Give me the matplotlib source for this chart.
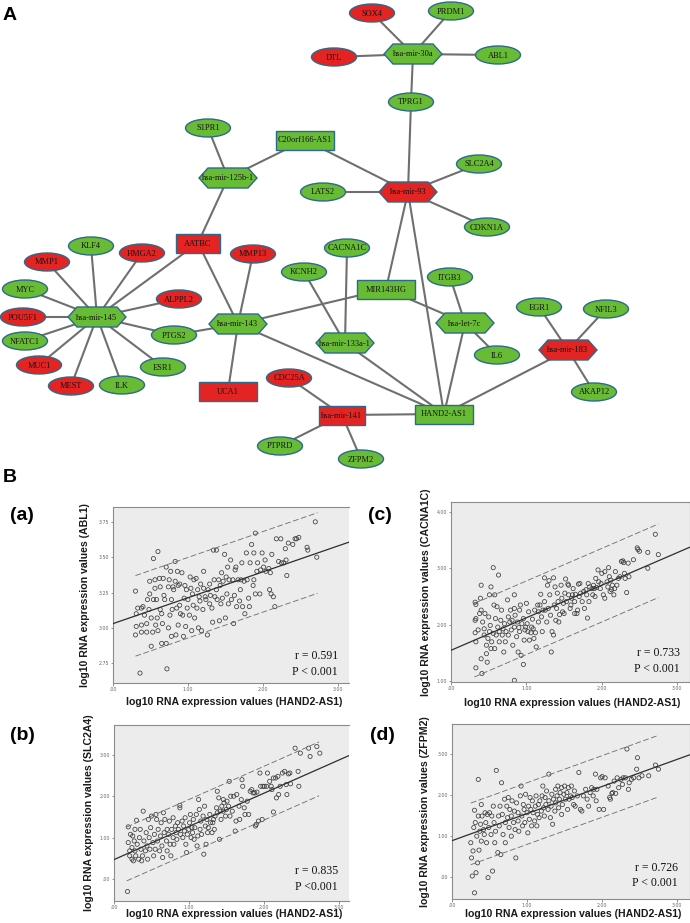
import matplotlib
matplotlib.use("Agg")
import matplotlib.pyplot as plt
from matplotlib.patches import Ellipse, Rectangle, Polygon

# ------------------------------------------------------------------ data
NODE_NAMES = ["hsa-mir-30a", "SOX4", "PRDM1", "DTL", "ABL1", "TPRG1", "S1PR1",
              "C20orf166-AS1", "hsa-mir-125b-1", "LATS2", "hsa-mir-93", "SLC2A4",
              "CDKN1A", "AATBC", "KLF4", "HMGA2", "MMP1", "MMP13", "CACNA1C", "KCNH2",
              "MYC", "ALPPL2", "POU5F1", "hsa-mir-145", "hsa-mir-143", "PTGS2",
              "NFATC1", "hsa-mir-133a-1", "MUC1", "ESR1", "MEST", "ILK", "CDC25A",
              "UCA1", "hsa-mir-141", "PTPRD", "ZFPM2", "ITGB3", "MIR143HG", "EGR1",
              "NFIL3", "hsa-let-7c", "hsa-mir-183", "IL6", "AKAP12", "HAND2-AS1"]
NODE_REGULATION = ["down", "up", "down", "up", "down", "down", "down",
                   "down", "down", "down", "up", "down",
                   "down", "up", "down", "up", "up", "up", "down", "down",
                   "down", "up", "up", "down", "down", "down",
                   "down", "down", "up", "down", "up", "down", "up",
                   "up", "up", "down", "down", "down", "down", "down",
                   "down", "down", "up", "down", "down", "down"]
NODE_SHAPE = ["hex", "ell", "ell", "ell", "ell", "ell", "ell",
              "rect", "hex", "ell", "hex", "ell",
              "ell", "rect", "ell", "ell", "ell", "ell", "ell", "ell",
              "ell", "ell", "ell", "hex", "hex", "ell",
              "ell", "hex", "ell", "ell", "ell", "ell", "ell",
              "rect", "rect", "ell", "ell", "ell", "rect", "ell",
              "ell", "hex", "hex", "ell", "ell", "rect"]
EDGES = [("hsa-mir-30a", "SOX4"), ("hsa-mir-30a", "PRDM1"), ("hsa-mir-30a", "DTL"),
         ("hsa-mir-30a", "ABL1"), ("hsa-mir-30a", "TPRG1"), ("TPRG1", "hsa-mir-93"),
         ("hsa-mir-93", "C20orf166-AS1"), ("hsa-mir-93", "LATS2"), ("hsa-mir-93", "SLC2A4"),
         ("hsa-mir-93", "CDKN1A"), ("hsa-mir-93", "MIR143HG"), ("hsa-mir-93", "HAND2-AS1"),
         ("C20orf166-AS1", "hsa-mir-125b-1"), ("S1PR1", "hsa-mir-125b-1"),
         ("hsa-mir-125b-1", "AATBC"), ("AATBC", "hsa-mir-145"), ("AATBC", "hsa-mir-143"),
         ("hsa-mir-145", "KLF4"), ("hsa-mir-145", "HMGA2"), ("hsa-mir-145", "MMP1"),
         ("hsa-mir-145", "MYC"), ("hsa-mir-145", "ALPPL2"), ("hsa-mir-145", "POU5F1"),
         ("hsa-mir-145", "NFATC1"), ("hsa-mir-145", "PTGS2"), ("hsa-mir-145", "MUC1"),
         ("hsa-mir-145", "ESR1"), ("hsa-mir-145", "MEST"), ("hsa-mir-145", "ILK"),
         ("PTGS2", "hsa-mir-143"), ("hsa-mir-143", "MMP13"), ("hsa-mir-143", "UCA1"),
         ("hsa-mir-143", "MIR143HG"), ("hsa-mir-143", "HAND2-AS1"),
         ("hsa-mir-133a-1", "CACNA1C"), ("hsa-mir-133a-1", "KCNH2"),
         ("hsa-mir-133a-1", "HAND2-AS1"), ("MIR143HG", "hsa-let-7c"),
         ("hsa-let-7c", "ITGB3"), ("hsa-let-7c", "IL6"), ("hsa-let-7c", "HAND2-AS1"),
         ("hsa-mir-183", "EGR1"), ("hsa-mir-183", "NFIL3"), ("hsa-mir-183", "AKAP12"),
         ("hsa-mir-183", "HAND2-AS1"), ("hsa-mir-141", "CDC25A"), ("hsa-mir-141", "PTPRD"),
         ("hsa-mir-141", "ZFPM2"), ("hsa-mir-141", "HAND2-AS1")]

# scatter panels (log10 expression)
A_X = [0.30,0.31,0.31,0.30,0.36,0.38,0.38,0.33,0.38,0.40,
       0.42,0.45,0.45,0.46,0.48,0.49,0.49,0.51,0.51,0.53,
       0.54,0.54,0.56,0.56,0.57,0.58,0.59,0.60,0.60,0.62,
       0.63,0.63,0.65,0.65,0.66,0.67,0.68,0.69,0.71,0.71,
       0.72,0.74,0.74,0.75,0.76,0.77,0.78,0.78,0.79,0.80,
       0.81,0.83,0.83,0.84,0.85,0.86,0.87,0.87,0.89,0.89,
       0.90,0.92,0.93,0.94,0.95,0.96,0.97,0.98,0.99,1.00,
       1.02,1.03,1.04,1.05,1.06,1.07,1.08,1.09,1.11,1.12,
       1.13,1.14,1.15,1.16,1.17,1.18,1.20,1.21,1.21,1.23,
       1.24,1.26,1.27,1.29,1.29,1.30,1.32,1.33,1.34,1.35,
       1.36,1.38,1.38,1.39,1.41,1.42,1.43,1.44,1.45,1.46,
       1.47,1.49,1.50,1.51,1.52,1.53,1.54,1.55,1.57,1.58,
       1.60,1.61,1.62,1.63,1.64,1.65,1.67,1.69,1.70,1.71,
       1.72,1.73,1.75,1.76,1.78,1.79,1.81,1.82,1.83,1.85,
       1.87,1.88,1.88,1.90,1.90,1.92,1.93,1.96,1.97,1.99,
       2.01,2.03,2.04,2.08,2.09,2.10,2.11,2.12,2.14,2.16,
       2.18,2.21,2.24,2.25,2.28,2.30,2.31,2.32,2.34,2.40,
       2.43,2.45,2.48,2.59,2.60,2.70,2.72]
A_Y = [3.26,3.10,3.01,2.95,2.68,2.97,3.02,3.14,3.14,3.15,
       3.09,3.03,2.97,3.20,3.13,3.24,3.33,3.07,2.87,2.97,
       3.20,3.49,3.34,3.28,3.02,3.20,3.07,2.98,3.54,3.35,
       3.13,3.29,2.89,3.10,3.03,3.35,3.23,3.20,3.43,2.89,
       2.71,3.29,3.00,3.34,3.09,3.40,3.20,2.94,3.13,3.29,
       3.27,3.47,3.33,2.95,3.14,3.40,3.30,3.02,3.31,3.16,
       3.10,3.39,3.09,2.94,3.21,3.30,3.01,3.27,3.14,3.20,
       3.09,3.36,3.28,2.98,3.24,3.16,3.34,3.07,3.35,3.14,
       3.27,3.00,3.22,3.19,3.31,2.98,3.13,3.28,3.40,3.22,
       3.20,2.95,3.27,3.17,3.31,3.23,3.14,3.04,3.55,3.34,
       3.22,3.55,3.27,3.20,3.34,3.05,3.30,3.17,3.39,3.21,
       3.33,3.52,3.07,3.36,3.24,3.43,3.17,3.34,3.48,3.20,
       3.34,3.03,3.23,3.41,3.43,3.15,3.34,3.19,3.27,3.34,
       3.46,3.15,3.33,3.10,3.53,3.34,3.21,3.15,3.46,3.59,
       3.30,3.34,3.53,3.24,3.67,3.40,3.46,3.24,3.41,3.53,
       3.43,3.48,3.40,3.42,3.27,3.39,3.24,3.52,3.22,3.15,
       3.63,3.47,3.63,3.46,3.46,3.56,3.48,3.37,3.60,3.59,
       3.63,3.63,3.64,3.57,3.55,3.75,3.50]

C_X = [0.32,0.33,0.32,0.33,0.32,0.33,0.33,0.36,0.38,0.39,
       0.40,0.40,0.40,0.41,0.42,0.44,0.44,0.45,0.47,0.47,
       0.48,0.49,0.50,0.51,0.51,0.52,0.53,0.53,0.54,0.56,
       0.56,0.57,0.58,0.58,0.59,0.60,0.61,0.62,0.63,0.64,
       0.64,0.66,0.67,0.68,0.69,0.70,0.71,0.72,0.73,0.75,
       0.76,0.76,0.78,0.79,0.80,0.81,0.82,0.84,0.84,0.84,
       0.85,0.87,0.88,0.89,0.90,0.91,0.91,0.92,0.93,0.94,
       0.96,0.96,0.97,0.98,0.99,1.00,1.01,1.02,1.03,1.04,
       1.06,1.07,1.08,1.09,1.10,1.11,1.12,1.13,1.15,1.16,
       1.16,1.18,1.19,1.20,1.21,1.22,1.24,1.24,1.25,1.27,
       1.28,1.29,1.30,1.31,1.32,1.33,1.34,1.36,1.36,1.37,
       1.38,1.39,1.40,1.41,1.42,1.43,1.44,1.46,1.47,1.48,
       1.49,1.50,1.51,1.52,1.53,1.55,1.56,1.56,1.58,1.59,
       1.60,1.61,1.62,1.64,1.64,1.65,1.67,1.68,1.69,1.70,
       1.71,1.72,1.74,1.76,1.77,1.79,1.80,1.81,1.82,1.83,
       1.84,1.87,1.88,1.89,1.90,1.91,1.92,1.93,1.95,1.96,
       1.98,1.99,2.00,2.02,2.04,2.04,2.07,2.08,2.09,2.10,
       2.11,2.12,2.13,2.14,2.16,2.17,2.18,2.20,2.22,2.24,
       2.26,2.28,2.29,2.30,2.31,2.33,2.35,2.36,2.42,2.47,
       2.48,2.50,2.61,2.61,2.71,2.75,0.84]
C_Y = [2.40,2.36,2.08,2.11,1.86,1.70,1.24,1.91,2.20,2.47,
       2.70,2.26,1.40,1.14,2.05,1.82,1.93,2.20,1.64,1.49,
       1.34,1.76,2.14,2.53,1.88,1.99,1.58,2.67,1.70,3.01,
       1.85,2.35,2.53,1.58,2.11,1.82,2.32,1.96,2.88,1.70,
       1.88,2.08,2.26,1.82,1.93,1.52,2.02,1.70,1.88,2.44,
       2.14,1.82,2.05,2.26,1.91,2.08,1.64,1.96,2.53,2.29,
       2.17,1.79,2.05,1.52,1.95,1.88,2.26,2.35,1.46,2.02,
       2.11,1.30,1.73,1.91,1.96,2.38,2.02,1.88,2.23,1.73,
       1.86,1.96,2.10,1.93,1.76,2.26,1.86,1.61,2.35,2.23,
       2.05,2.35,2.54,2.14,1.88,2.26,2.83,2.41,2.26,2.05,
       2.70,2.29,2.78,2.53,2.17,1.52,1.88,1.82,2.83,2.35,
       2.67,2.08,2.29,2.56,2.41,2.05,2.18,2.70,2.47,2.23,
       2.38,2.20,2.56,2.81,2.41,2.72,2.70,2.53,2.29,2.35,
       2.47,2.53,2.64,2.20,2.41,2.54,2.20,2.26,2.72,2.50,
       2.73,2.56,2.41,2.59,2.29,2.62,2.53,2.12,2.73,2.41,
       2.67,2.64,2.53,2.70,2.64,2.50,2.82,2.66,2.97,2.76,
       2.64,2.73,2.91,2.53,2.47,2.94,2.76,2.67,3.01,2.85,
       2.59,2.79,2.62,2.70,2.53,2.64,2.94,2.70,2.82,2.85,
       3.12,3.13,3.10,2.91,2.82,2.57,3.09,2.85,3.15,3.36,
       3.33,3.30,3.00,3.28,3.60,3.24,1.02]

B_X = [0.18,0.19,0.19,0.21,0.21,0.22,0.24,0.24,0.25,0.26,
       0.27,0.28,0.28,0.29,0.30,0.31,0.33,0.34,0.35,0.36,
       0.37,0.38,0.39,0.40,0.42,0.43,0.44,0.45,0.46,0.47,
       0.48,0.49,0.50,0.52,0.53,0.54,0.55,0.56,0.57,0.58,
       0.59,0.61,0.62,0.63,0.64,0.65,0.66,0.67,0.68,0.70,
       0.71,0.71,0.73,0.74,0.75,0.76,0.77,0.79,0.79,0.80,
       0.82,0.83,0.84,0.85,0.86,0.88,0.88,0.89,0.91,0.92,
       0.93,0.94,0.95,0.96,0.97,0.98,1.00,1.01,1.02,1.03,
       1.04,1.05,1.06,1.07,1.08,1.10,1.11,1.12,1.13,1.14,
       1.15,1.16,1.17,1.19,1.20,1.21,1.22,1.23,1.24,1.25,
       1.26,1.28,1.29,1.31,1.32,1.33,1.34,1.35,1.37,1.38,
       1.38,1.40,1.41,1.42,1.43,1.44,1.46,1.46,1.47,1.49,
       1.50,1.51,1.53,1.54,1.55,1.56,1.58,1.60,1.62,1.63,
       1.64,1.67,1.68,1.70,1.71,1.72,1.74,1.75,1.78,1.80,
       1.82,1.84,1.86,1.88,1.89,1.90,1.91,1.93,1.95,1.96,
       1.98,1.99,2.01,2.04,2.05,2.08,2.10,2.11,2.13,2.13,
       2.16,2.17,2.19,2.20,2.22,2.25,2.28,2.30,2.31,2.33,
       2.35,2.36,2.42,2.46,2.47,2.49,2.60,2.62,2.71,2.75]
B_Y = [-0.30,0.88,1.26,0.68,0.56,1.08,0.48,0.76,1.04,0.44,
       0.92,0.68,1.20,0.56,1.42,0.84,0.48,1.00,1.20,0.72,
       0.44,0.56,1.64,0.92,0.68,1.12,0.80,0.48,1.44,1.00,
       0.72,1.24,1.52,0.88,0.56,1.08,0.72,1.56,1.44,0.92,
       1.20,0.68,1.04,1.36,0.80,0.52,1.60,1.12,1.44,0.92,
       1.20,0.68,1.08,1.40,0.84,0.56,1.20,1.48,1.00,0.84,
       1.28,1.12,0.96,1.36,1.20,1.72,1.78,1.08,1.40,1.00,
       1.28,1.16,1.48,0.84,0.64,1.08,1.20,1.36,1.56,1.00,
       1.24,1.12,1.44,0.96,1.24,1.56,0.80,1.04,1.92,1.68,
       1.20,1.40,1.08,1.52,0.60,1.76,1.28,0.84,1.44,1.12,
       1.24,1.56,1.36,1.12,1.36,1.44,1.20,1.52,1.72,2.12,
       1.60,1.96,0.96,1.64,1.44,1.76,1.92,1.64,1.84,1.52,
       1.68,1.88,1.76,2.36,1.52,2.00,1.64,2.00,1.16,1.40,
       2.04,1.76,1.44,1.92,2.40,2.24,1.72,1.56,1.88,1.56,
       2.12,2.16,2.08,2.08,1.28,1.32,2.10,1.40,2.56,2.24,
       1.44,2.24,2.24,2.24,2.56,2.36,2.24,2.16,1.62,2.44,
       2.44,1.96,2.48,2.04,2.24,2.56,2.60,2.28,2.04,2.54,
       2.56,2.30,3.16,2.60,2.24,3.04,3.16,2.96,3.20,3.04]

D_X = [0.25,0.26,0.27,0.28,0.29,0.30,0.30,0.31,0.32,0.33,
       0.34,0.35,0.35,0.36,0.37,0.38,0.39,0.39,0.40,0.42,
       0.43,0.44,0.45,0.46,0.47,0.48,0.49,0.50,0.52,0.53,
       0.54,0.55,0.56,0.57,0.58,0.59,0.61,0.62,0.63,0.64,
       0.65,0.66,0.67,0.68,0.70,0.71,0.71,0.73,0.74,0.75,
       0.76,0.77,0.79,0.79,0.80,0.82,0.83,0.84,0.85,0.86,
       0.88,0.88,0.89,0.91,0.92,0.93,0.94,0.95,0.96,0.97,
       0.98,1.00,1.01,1.02,1.03,1.04,1.05,1.06,1.07,1.08,
       1.10,1.11,1.12,1.13,1.14,1.15,1.16,1.17,1.19,1.20,
       1.21,1.22,1.23,1.24,1.25,1.26,1.28,1.29,1.29,1.31,
       1.32,1.33,1.34,1.35,1.37,1.38,1.38,1.40,1.41,1.42,
       1.43,1.44,1.46,1.46,1.47,1.49,1.50,1.51,1.53,1.54,
       1.55,1.56,1.58,1.59,1.60,1.62,1.63,1.64,1.67,1.69,
       1.71,1.73,1.75,1.78,1.80,1.82,1.84,1.86,1.88,1.89,
       1.91,1.92,1.93,1.96,1.98,2.00,2.02,2.04,2.08,2.10,
       2.11,2.13,2.14,2.16,2.18,2.20,2.22,2.25,2.27,2.28,
       2.31,2.33,2.35,2.36,2.39,2.42,2.46,2.47,2.49,2.53,
       2.62,2.71,2.75]
D_Y = [0.83,0.46,0.02,0.63,1.20,-0.39,1.62,1.32,0.10,0.99,
       0.34,2.37,1.48,0.65,1.11,1.28,1.76,0.87,1.48,1.15,
       1.03,1.56,1.32,0.83,1.52,-0.02,1.20,1.56,1.03,1.48,
       0.14,1.72,1.32,0.83,1.11,2.59,0.59,1.48,1.24,1.72,
       0.54,2.29,1.52,1.03,1.89,1.32,0.83,1.72,1.44,1.93,
       1.20,1.64,1.48,0.99,1.85,1.32,1.60,1.15,0.46,1.80,
       1.36,1.56,1.11,1.97,2.21,1.48,1.24,1.76,1.64,1.32,
       2.01,1.56,1.07,1.72,1.40,1.93,1.64,1.24,1.85,1.56,
       1.36,1.72,1.97,1.24,1.52,1.76,1.44,1.85,1.60,1.97,
       2.21,1.68,1.48,1.93,1.76,2.09,1.64,2.50,1.85,1.44,
       1.72,2.01,1.28,1.89,1.60,2.13,1.80,1.97,2.21,1.68,
       1.89,2.05,1.52,2.17,1.76,2.01,2.21,1.89,2.05,1.64,
       2.17,1.89,1.97,2.21,1.93,1.76,2.09,1.72,1.97,2.54,
       1.64,1.60,1.97,2.13,1.89,1.72,2.05,2.17,1.97,2.13,
       2.50,1.85,2.13,1.64,2.41,2.44,1.64,2.41,2.21,1.93,
       1.89,2.03,2.05,2.33,2.03,2.41,2.17,2.37,2.25,2.41,
       2.41,3.11,2.13,2.29,2.37,2.41,2.62,2.90,2.41,2.46,
       2.46,2.72,2.62]

PANEL_TAGS = ["(a)", "(b)", "(c)", "(d)"]
PANEL_GENES = ["ABL1", "SLC2A4", "CACNA1C", "ZFPM2"]
PANEL_R = ["r = 0.591", "r = 0.835", "r = 0.733", "r = 0.726"]
PANEL_P = ["P < 0.001", "P <0.001", "P < 0.001", "P < 0.001"]
FIT_INTERCEPT = [3.03, 0.47, 1.55, 0.88]
FIT_SLOPE = [0.183, 0.80, 0.575, 0.66]
PRED_HALF = [0.285, 0.65, 0.65, 0.75]
PRED_XRANGE = [(0.30, 2.73), (0.17, 2.74), (0.31, 2.75), (0.25, 2.75)]
X_TICKS = [0, 1, 2, 3]
X_TICKLABELS = [".00", "1.00", "2.00", "3.00"]
Y_TICKS = [[2.75, 3.00, 3.25, 3.50, 3.75], [0, 1, 2, 3], [1, 2, 3, 4], [0, 1, 2, 3]]
Y_TICKLABELS = [["2.75", "3.00", "3.25", "3.50", "3.75"], [".00", "1.00", "2.00", "3.00"],
                ["1.00", "2.00", "3.00", "4.00"], [".00", "1.00", "2.00", "3.00"]]
X_LABEL = "log10 RNA expression values (HAND2-AS1)"

# ------------------------------------------------------------------ layout (pixels)
W, H = 690, 923
LAYOUT = {
    "hsa-mir-30a": (413, 54), "SOX4": (372, 13), "PRDM1": (451, 11), "DTL": (334, 57),
    "ABL1": (498, 55), "TPRG1": (411, 102), "S1PR1": (208, 128),
    "C20orf166-AS1": (305, 140), "hsa-mir-125b-1": (228, 178), "LATS2": (323, 192),
    "hsa-mir-93": (408, 192), "SLC2A4": (479, 164), "CDKN1A": (487, 227),
    "AATBC": (198, 243), "KLF4": (91, 246), "HMGA2": (142, 253), "MMP1": (47, 262),
    "MMP13": (253, 254), "CACNA1C": (347, 248), "KCNH2": (304, 272), "MYC": (25, 289),
    "ALPPL2": (179, 299), "POU5F1": (23, 317), "hsa-mir-145": (97, 317),
    "hsa-mir-143": (238, 324), "PTGS2": (174, 335), "NFATC1": (25, 341),
    "hsa-mir-133a-1": (345, 343), "MUC1": (39, 365), "ESR1": (163, 367),
    "MEST": (71, 386), "ILK": (122, 385), "CDC25A": (289, 378), "UCA1": (228, 391),
    "hsa-mir-141": (342, 415), "PTPRD": (280, 446), "ZFPM2": (361, 459),
    "ITGB3": (450, 277), "MIR143HG": (386, 289), "EGR1": (539, 307),
    "NFIL3": (606, 309), "hsa-let-7c": (465, 323), "hsa-mir-183": (568, 350),
    "IL6": (497, 355), "AKAP12": (594, 392), "HAND2-AS1": (444, 414),
}
RECT_W = {"AATBC": 44, "hsa-mir-141": 46}

GREEN = "#68bb35"
RED = "#e42323"
BORDER = "#2c6a8a"
EDGE_C = "#6f6f6f"

fig = plt.figure(figsize=(W / 100, H / 100), dpi=100)
ov = fig.add_axes([0, 0, 1, 1])
ov.set_xlim(0, W)
ov.set_ylim(H, 0)
ov.axis("off")

# edges
for a, b in EDGES:
    (x1, y1), (x2, y2) = LAYOUT[a], LAYOUT[b]
    ov.plot([x1, x2], [y1, y2], color=EDGE_C, lw=1.5, zorder=1, solid_capstyle="butt")

# nodes
for name, reg, shp in zip(NODE_NAMES, NODE_REGULATION, NODE_SHAPE):
    x, y = LAYOUT[name]
    fc = RED if reg == "up" else GREEN
    if shp == "ell":
        p = Ellipse((x, y), 45, 18, facecolor=fc, edgecolor=BORDER, lw=1.0, zorder=2)
    elif shp == "hex":
        w, h, d = 58, 20, 9
        p = Polygon([(x - w / 2, y), (x - w / 2 + d, y - h / 2), (x + w / 2 - d, y - h / 2),
                     (x + w / 2, y), (x + w / 2 - d, y + h / 2), (x - w / 2 + d, y + h / 2)],
                    closed=True, facecolor=fc, edgecolor=BORDER, lw=1.0, zorder=2)
    else:
        w = RECT_W.get(name, 58)
        h = 19
        p = Rectangle((x - w / 2, y - h / 2), w, h, facecolor=fc, edgecolor=BORDER,
                      lw=1.0, zorder=2)
    ov.add_patch(p)
    ov.text(x, y + 0.5, name, ha="center", va="center", fontsize=6.0,
            family="Liberation Serif", color="#151515", zorder=3)

ov.text(3, 15, "A", fontsize=14, fontweight="bold", family="Liberation Sans",
        ha="left", va="center")
ov.text(3, 477, "B", fontsize=14, fontweight="bold", family="Liberation Sans",
        ha="left", va="center")

# ------------------------------------------------------------------ scatter panels
# (left, top, right, bottom) in px, xlim, ylim
PANEL_BOX = [(113, 507, 349, 683), (114, 725, 349, 901), (451, 502, 690, 682), (452, 724, 690, 899)]
PANEL_XLIM = [(0, 3.15), (0, 3.14), (0, 3.17), (0, 3.17)]
PANEL_YLIM = [(2.61, 3.855), (-0.53, 3.72), (0.99, 4.17), (-0.54, 3.72)]
TAG_POS = [(22, 515), (22, 736), (380, 516), (382, 736)]
YLAB_X = [85, 89, 426, 425]
XLAB_Y = [702, 914, 703, 914]
STAT_RIGHT = [338, 338, 680, 678]
STAT_Y = [(656, 672), (871, 887), (653, 669), (868, 883)]
DATA = [(A_X, A_Y), (B_X, B_Y), (C_X, C_Y), (D_X, D_Y)]


def axrect(l, t, r, b):
    return [l / W, 1 - b / H, (r - l) / W, (b - t) / H]


for i in range(4):
    l, t, r, b = PANEL_BOX[i]
    ax = fig.add_axes(axrect(l, t, r, b))
    ax.set_facecolor("#ececec")
    xs, ys = DATA[i]
    ax.scatter(xs, ys, s=9, facecolors="none", edgecolors="#3c3c3c", linewidths=0.55, zorder=3)
    x0, x1 = PANEL_XLIM[i]
    fx = [x0, x1]
    ax.plot(fx, [FIT_INTERCEPT[i] + FIT_SLOPE[i] * v for v in fx], color="#2e2e2e", lw=0.9, zorder=4)
    px0, px1 = PRED_XRANGE[i]
    for sgn in (1, -1):
        ax.plot([px0, px1],
                [FIT_INTERCEPT[i] + FIT_SLOPE[i] * px0 + sgn * PRED_HALF[i],
                 FIT_INTERCEPT[i] + FIT_SLOPE[i] * px1 + sgn * PRED_HALF[i]],
                color="#6a6a6a", lw=0.6, ls=(0, (7, 3)), zorder=4)
    ax.set_xlim(*PANEL_XLIM[i])
    ax.set_ylim(*PANEL_YLIM[i])
    ax.set_xticks(X_TICKS)
    ax.set_xticklabels(X_TICKLABELS)
    ax.set_yticks(Y_TICKS[i])
    ax.set_yticklabels(Y_TICKLABELS[i])
    ax.tick_params(labelsize=3.4, length=1.8, width=0.5, colors="#666666", pad=0.8)
    for s in ax.spines.values():
        s.set_color("#8c8c8c")
        s.set_linewidth(0.8)
    if i < 2:
        ax.spines["right"].set_visible(False)

    ov.text(TAG_POS[i][0], TAG_POS[i][1], PANEL_TAGS[i], fontsize=14, fontweight="bold",
            family="Liberation Sans", ha="center", va="center")
    ov.text(YLAB_X[i], (t + b) / 2, "log10 RNA expression values (%s)" % PANEL_GENES[i],
            rotation=90, fontsize=7.6, fontweight="bold", family="Liberation Sans",
            color="#1a1a1a", ha="center", va="center")
    ov.text((l + min(r, l + 236)) / 2 + 3, XLAB_Y[i], X_LABEL, fontsize=7.6, fontweight="bold",
            family="Liberation Sans", color="#1a1a1a", ha="center", va="center")
    ov.text(STAT_RIGHT[i], STAT_Y[i][0], PANEL_R[i], fontsize=8.5, family="Liberation Serif",
            ha="right", va="center", color="#111111", zorder=10)
    ov.text(STAT_RIGHT[i], STAT_Y[i][1], PANEL_P[i], fontsize=8.5, family="Liberation Serif",
            ha="right", va="center", color="#111111", zorder=10)

# overlay above scatter axes for the stats text
ov.set_zorder(5)
ov.patch.set_visible(False)

fig.savefig("out.png", dpi=100)
